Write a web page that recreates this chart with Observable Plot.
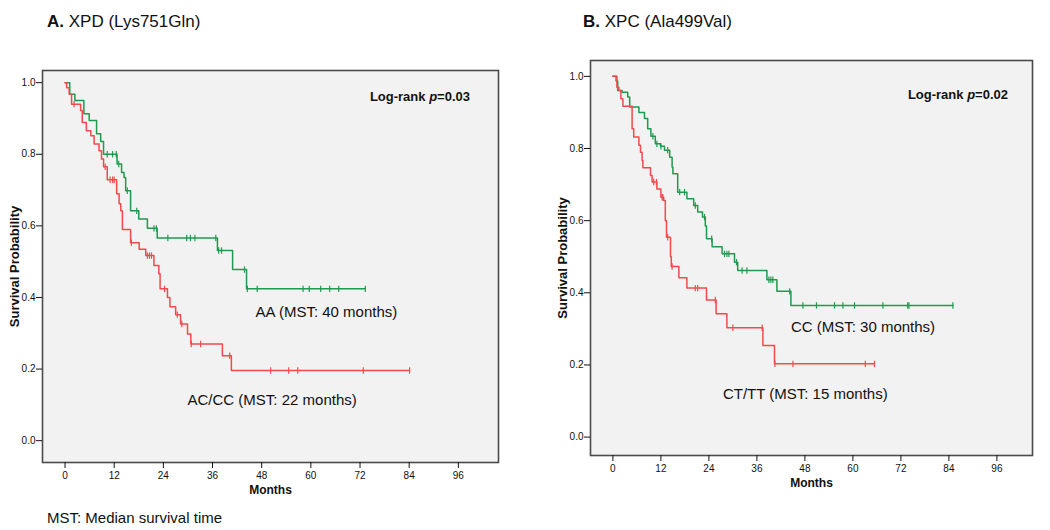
<!DOCTYPE html>
<html><head><meta charset="utf-8">
<script src="https://cdn.jsdelivr.net/npm/d3@7"></script>
<script src="https://cdn.jsdelivr.net/npm/@observablehq/plot@0.6"></script>
<style>
body{margin:0;background:#fff;font-family:"Liberation Sans",Arial,sans-serif;color:#111;}
#wrap{position:relative;width:1050px;height:530px;overflow:hidden;background:#fff;}
.abs{position:absolute;white-space:nowrap;line-height:1;}
.title{font-size:17px;}
.lr{font-size:13px;font-weight:bold;}
.note{font-size:15px;}
#pa,#pb{position:absolute;}
#pa{left:0;top:60px;}
#pb{left:530px;top:50px;}
</style></head><body><div id="wrap">
<div class="abs title" style="left:47px;top:13px;"><b>A.</b> XPD (Lys751Gln)</div>
<div class="abs title" style="left:583px;top:13px;"><b>B.</b> XPC (Ala499Val)</div>
<div id="pa"></div><div id="pb"></div>
<div class="abs lr" style="right:580px;top:90px;">Log-rank <i>p</i>=0.03</div>
<div class="abs lr" style="right:42px;top:88px;">Log-rank <i>p</i>=0.02</div>
<div class="abs note" style="left:47px;top:510px;">MST: Median survival time</div>
</div>
<script>
// ---------- shared axis values ----------
const monthTicks = [0, 12, 24, 36, 48, 60, 72, 84, 96];
const probTicks = [0, 0.2, 0.4, 0.6, 0.8, 1.0];
const xLabel = "Months";
const yLabel = "Survival Probability";

// ---------- Panel A: XPD (Lys751Gln) ----------
const aaEventMonths = [1.15, 2.4, 4.6, 5.9, 7.7, 8.7, 9.4, 12.7, 13.8, 14.4, 14.8, 16.0, 18.0, 20.1, 22.5, 37.2, 40.9, 44.3];
const aaEventSurv   = [0.968, 0.95, 0.913, 0.894, 0.857, 0.836, 0.80, 0.773, 0.749, 0.735, 0.698, 0.642, 0.619, 0.593, 0.566, 0.531, 0.478, 0.424];
const aaCensorMonths = [10.3, 11.6, 12.5, 13.1, 15.2, 17.5, 21.7, 22.3, 25.1, 29.7, 30.6, 31.7, 36.8, 37.5, 38.2, 43.8, 44.5, 46.9, 58.1, 59.6, 62.4, 64.6, 66.8, 73.3];

const acccEventMonths = [0.4, 1.0, 1.6, 3.8, 4.2, 5.2, 6.3, 7.1, 8.3, 8.9, 9.4, 10.3, 12.6, 13.2, 13.6, 14.0, 16.0, 18.1, 19.7, 21.7, 22.9, 23.2, 25.0, 25.6, 27.0, 28.2, 29.9, 30.7, 38.4, 40.6];
const acccEventSurv   = [0.986, 0.968, 0.94, 0.922, 0.889, 0.866, 0.852, 0.829, 0.81, 0.787, 0.765, 0.729, 0.69, 0.662, 0.642, 0.59, 0.553, 0.535, 0.517, 0.489, 0.466, 0.424, 0.40, 0.374, 0.352, 0.326, 0.298, 0.27, 0.237, 0.196];
const acccCensorMonths = [2.2, 9.8, 11.0, 11.6, 12.0, 16.2, 20.1, 20.6, 21.1, 24.3, 27.4, 28.5, 30.8, 33.1, 40.2, 50.2, 54.6, 56.8, 72.8, 84.1];

const aLabels = ["AA (MST: 40 months)", "AC/CC (MST: 22 months)"];
const aLabelMonths = [46.5, 29.9];
const aLabelSurv = [0.36, 0.112];

// ---------- Panel B: XPC (Ala499Val) ----------
const ccEventMonths = [0.8, 1.2, 2.3, 3.7, 4.2, 6.5, 7.9, 8.7, 9.5, 10.6, 11.9, 12.9, 14.2, 14.8, 15.0, 16.2, 18.5, 20.2, 21.2, 22.4, 23.1, 23.4, 24.8, 27.3, 30.4, 31.2, 38.5, 41.0, 44.5];
const ccEventSurv   = [0.987, 0.961, 0.956, 0.943, 0.915, 0.90, 0.883, 0.855, 0.834, 0.813, 0.806, 0.795, 0.776, 0.748, 0.73, 0.679, 0.661, 0.642, 0.624, 0.61, 0.585, 0.55, 0.528, 0.508, 0.485, 0.462, 0.436, 0.404, 0.365];
const ccCensorMonths = [10.0, 11.0, 12.0, 13.7, 16.7, 17.9, 20.6, 22.9, 24.7, 27.9, 28.5, 29.0, 30.9, 32.3, 33.5, 39.0, 39.5, 40.0, 44.2, 47.5, 50.9, 55.4, 57.5, 60.4, 67.5, 73.7, 74.0, 85.0];

const cttEventMonths = [1.0, 1.5, 2.0, 2.5, 4.8, 5.2, 6.5, 6.9, 7.3, 7.5, 9.4, 9.8, 11.0, 12.0, 12.7, 13.1, 13.4, 14.4, 14.6, 16.5, 18.5, 23.4, 25.8, 28.5, 37.5, 40.4];
const cttEventSurv   = [0.97, 0.961, 0.938, 0.917, 0.855, 0.832, 0.809, 0.79, 0.767, 0.747, 0.725, 0.707, 0.688, 0.665, 0.656, 0.60, 0.554, 0.50, 0.473, 0.442, 0.413, 0.38, 0.342, 0.303, 0.254, 0.203];
const cttCensorMonths = [10.2, 10.9, 12.3, 12.5, 13.7, 14.8, 20.6, 21.2, 25.6, 30.0, 37.3, 40.5, 45.0, 63.1, 65.4];

const bLabels = ["CC (MST: 30 months)", "CT/TT (MST: 15 months)"];
const bLabelMonths = [44.5, 27.5];
const bLabelSurv = [0.305, 0.118];

// ---------- colours ----------
const green = "#1f9a4f";
const red = "#f04a4d";

// ---------- helpers ----------
function curve(evM, evS, cenM) {
  const end = Math.max(d3.max(evM), d3.max(cenM));
  const pts = [{t: 0, s: 1}];
  evM.forEach((t, i) => pts.push({t, s: evS[i]}));
  pts.push({t: end, s: evS[evS.length - 1]});
  const survAt = t => { let s = 1; evM.forEach((m, i) => { if (m <= t) s = evS[i]; }); return s; };
  const cens = cenM.map(t => ({t, s: survAt(t)}));
  return {pts, cens};
}
const vbar = {draw(ctx, size) { const r = Math.sqrt(size / Math.PI); ctx.moveTo(0, -r); ctx.lineTo(0, r); }};

function panel(o) {
  const marks = [Plot.frame({fill: "#f2f2f2", stroke: "none"})];
  o.series.forEach(({c, color}) => {
    marks.push(Plot.line(c.pts, {x: "t", y: "s", curve: "step-after", stroke: color, strokeWidth: 1.5}));
    marks.push(Plot.dot(c.cens, {x: "t", y: "s", symbol: vbar, r: 3.2, stroke: color, fill: "none", strokeWidth: 1.2}));
  });
  marks.push(
    Plot.frame({stroke: "#4a4a4a", strokeWidth: 1.6}),
    Plot.axisX({ticks: monthTicks, tickSize: 6, tickPadding: 3, fontSize: 10, label: null, tickFormat: d => String(d)}),
    Plot.axisY({ticks: probTicks, tickSize: 6, tickPadding: 1, fontSize: 10, label: null, tickFormat: d3.format(".1f")}),
    Plot.text([xLabel], {frameAnchor: "bottom", textAnchor: "middle", dy: o.xLabDy, fontWeight: "bold", fontSize: 12}),
    Plot.text([yLabel], {frameAnchor: "left", textAnchor: "middle", rotate: -90, dx: -28, fontWeight: "bold", fontSize: 13}),
    Plot.text(o.labels.map((t, i) => ({t, x: o.lx[i], y: o.ly[i]})), {x: "x", y: "y", text: "t", textAnchor: "start", fontSize: 15, fill: "#111"})
  );
  return Plot.plot({
    width: o.width, height: o.height,
    marginLeft: o.mL, marginRight: o.mR, marginTop: o.mT, marginBottom: o.mB,
    x: {domain: o.xDom},
    y: {domain: o.yDom},
    style: {fontFamily: '"Liberation Sans", Arial, sans-serif', background: "transparent", color: "#111"},
    marks
  });
}

document.getElementById("pa").append(panel({
  width: 520, height: 440, mL: 42, mR: 22, mT: 10, mB: 38, xLabDy: 31,
  xDom: [-5.5, 105.8], yDom: [-0.061, 1.034],
  series: [
    {c: curve(aaEventMonths, aaEventSurv, aaCensorMonths), color: green},
    {c: curve(acccEventMonths, acccEventSurv, acccCensorMonths), color: red}
  ],
  labels: aLabels, lx: aLabelMonths, ly: aLabelSurv
}));
document.getElementById("pb").append(panel({
  width: 520, height: 440, mL: 60, mR: 18, mT: 10, mB: 35, xLabDy: 31,
  xDom: [-5.6, 104.9], yDom: [-0.051, 1.044],
  series: [
    {c: curve(ccEventMonths, ccEventSurv, ccCensorMonths), color: green},
    {c: curve(cttEventMonths, cttEventSurv, cttCensorMonths), color: red}
  ],
  labels: bLabels, lx: bLabelMonths, ly: bLabelSurv
}));
</script>
</body></html>
